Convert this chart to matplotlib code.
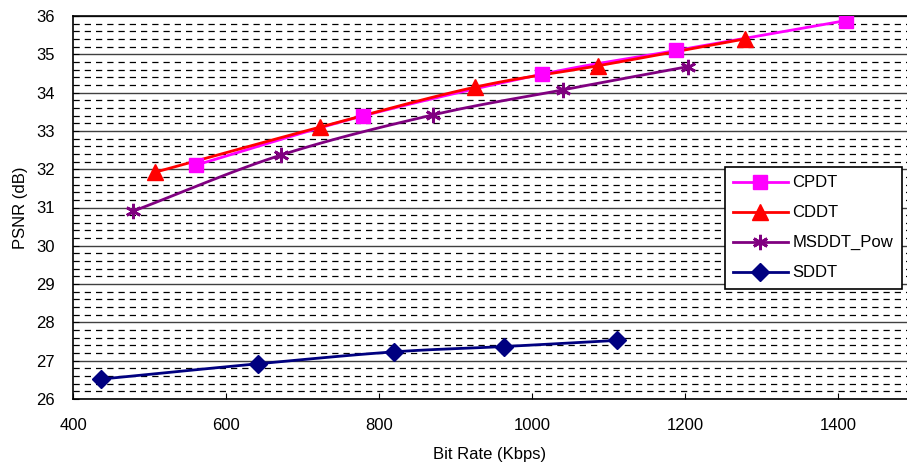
import numpy as np
import matplotlib
matplotlib.use("Agg")
import matplotlib.pyplot as plt

plt.rcParams['font.family'] = ['Liberation Sans', 'DejaVu Sans']

cpdt_x = [561, 779, 1013, 1188, 1410]
cpdt_y = [32.11, 33.39, 34.48, 35.10, 35.88]
cddt_x = [507, 723, 925, 1086, 1278]
cddt_y = [31.92, 33.10, 34.14, 34.70, 35.40]
msddt_x = [478, 672, 871, 1040, 1204]
msddt_y = [30.90, 32.37, 33.42, 34.07, 34.68]
sddt_x = [437, 642, 819, 963, 1111]
sddt_y = [26.52, 26.92, 27.23, 27.37, 27.53]

series = [
    ("CPDT", cpdt_x, cpdt_y, "#FF00FF", "s", 10.5),
    ("CDDT", cddt_x, cddt_y, "#FF0000", "^", 11),
    ("MSDDT_Pow", msddt_x, msddt_y, "#800080", (6, 2, 0), 11),
    ("SDDT", sddt_x, sddt_y, "#000080", "D", 9.5),
]


def smooth(xs, ys, n=30):
    xs = np.asarray(xs, float); ys = np.asarray(ys, float)
    px = np.concatenate([[2 * xs[0] - xs[1]], xs, [2 * xs[-1] - xs[-2]]])
    py = np.concatenate([[2 * ys[0] - ys[1]], ys, [2 * ys[-1] - ys[-2]]])
    ox, oy = [], []
    for i in range(1, len(px) - 2):
        t = np.linspace(0, 1, n, endpoint=False)
        for P, out in ((px, ox), (py, oy)):
            p0, p1, p2, p3 = P[i - 1], P[i], P[i + 1], P[i + 2]
            out.extend(0.5 * ((2 * p1) + (-p0 + p2) * t +
                              (2 * p0 - 5 * p1 + 4 * p2 - p3) * t ** 2 +
                              (-p0 + 3 * p1 - 3 * p2 + p3) * t ** 3))
    ox.append(xs[-1]); oy.append(ys[-1])
    return ox, oy


fig = plt.figure(figsize=(9.07, 4.71), dpi=100)
ax = fig.add_axes([73 / 907, 1 - 399 / 471, 1 - 73 / 907, (399 - 16) / 471])

ax.set_xlim(400, 1490)
ax.set_ylim(26, 36)
ax.set_xticks([400, 600, 800, 1000, 1200, 1400])
ax.set_yticks(range(26, 37))
ax.set_yticks(np.arange(26, 36.01, 0.2), minor=True)
ax.grid(True, which='major', axis='y', color='#404040', lw=1.0, ls='-')
ax.grid(True, which='minor', axis='y', color='black', lw=0.9, ls=(0, (5, 4)))
ax.set_axisbelow(True)
ax.tick_params(which='minor', left=False)
ax.tick_params(which='major', direction='in', length=4, labelsize=12)
ax.tick_params(axis='x', pad=14)
ax.tick_params(axis='y', pad=13)

for name, xs, ys, c, m, ms in series:
    sx, sy = smooth(xs, ys)
    ax.plot(sx, sy, color=c, lw=2, zorder=3)
    ax.plot(xs, ys, color=c, lw=2, ls='none', marker=m, markersize=ms,
            markeredgewidth=2 if m == (6, 2, 0) else 1, zorder=4)
    ax.plot([], [], color=c, lw=2, marker=m, markersize=ms,
            markeredgewidth=2 if m == (6, 2, 0) else 1, label=name)

for s in ['left', 'bottom', 'top']:
    ax.spines[s].set_color('black')
    ax.spines[s].set_linewidth(1.2)
ax.spines['right'].set_visible(False)

ax.set_xlabel("Bit Rate (Kbps)", fontsize=12, labelpad=10)
ax.set_ylabel("PSNR (dB)", fontsize=12, labelpad=6)

leg = ax.legend(loc='upper left', bbox_to_anchor=((725 - 73) / 834, 1 - (167 - 16) / 383),
                borderaxespad=0, fancybox=False, edgecolor='black', framealpha=1, fontsize=12,
                borderpad=0.5, labelspacing=0.9, handlelength=3.25, handletextpad=0.3)
leg.get_frame().set_linewidth(1.2)

fig.savefig("out.png", dpi=100)
